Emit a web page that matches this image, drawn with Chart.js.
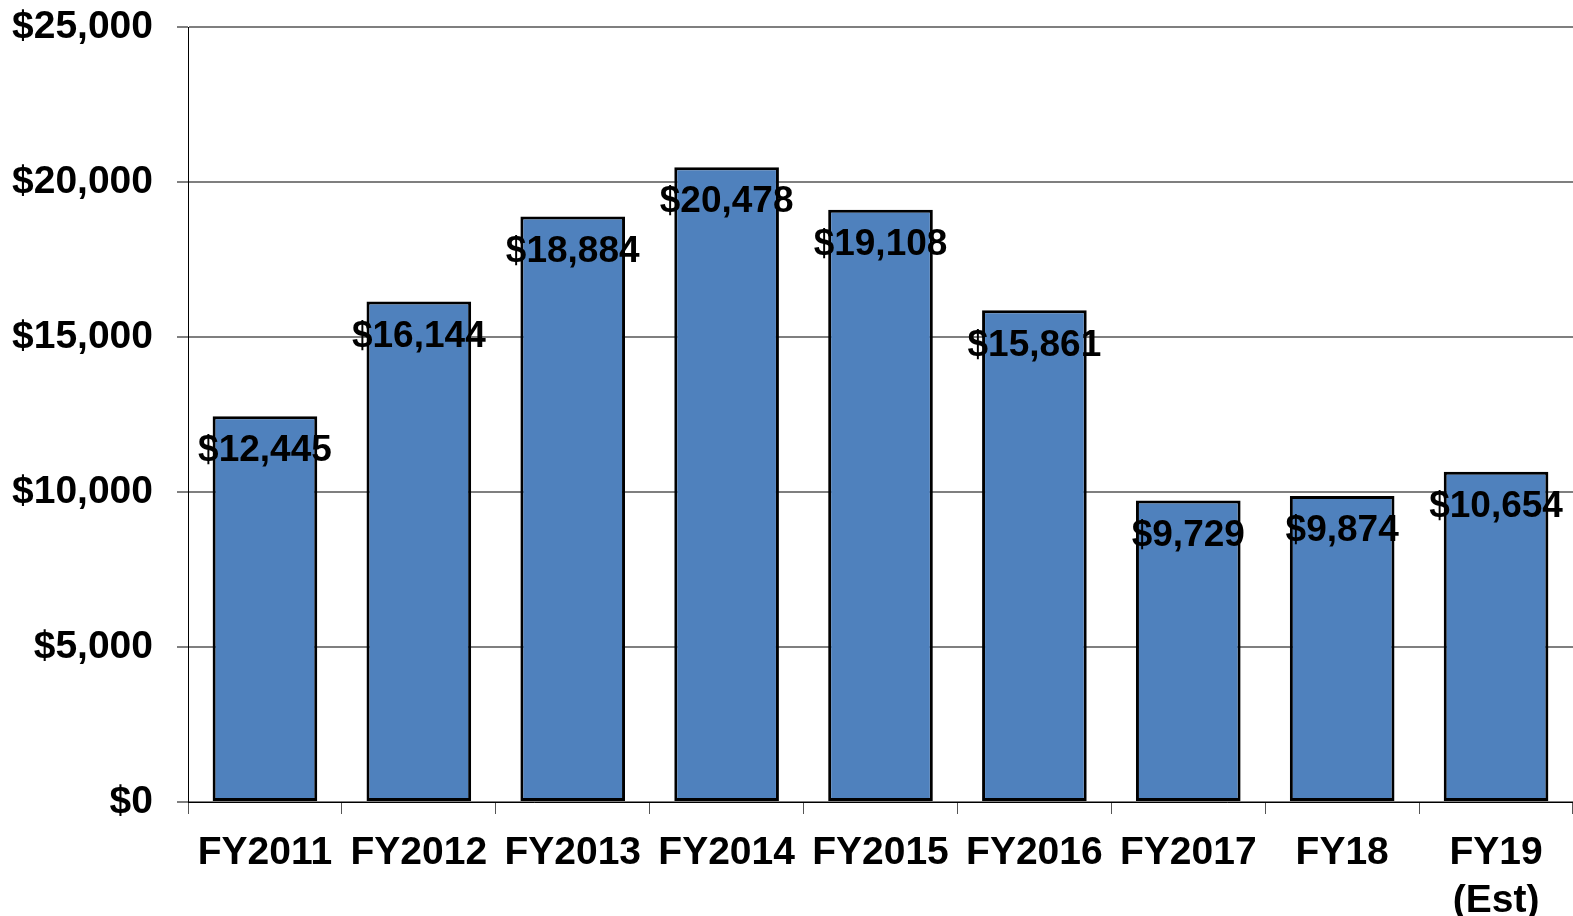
<!DOCTYPE html>
<html>
<head>
<meta charset="utf-8">
<script src="https://cdn.jsdelivr.net/npm/chart.js@4"></script>
<style>
  html, body { margin: 0; padding: 0; background: #fff; }
  #wrap { width: 1573px; height: 916px; }
</style>
</head>
<body>
<div id="wrap"><canvas id="barChart"></canvas></div>
<script>
const years = ['FY2011', 'FY2012', 'FY2013', 'FY2014', 'FY2015', 'FY2016', 'FY2017', 'FY18', ['FY19', '(Est)']];
const amounts = [12445, 16144, 18884, 20478, 19108, 15861, 9729, 9874, 10654];
const yTicks = [0, 5000, 10000, 15000, 20000, 25000];

const fontFamily = '"Liberation Sans", Arial, sans-serif';

function money(v) {
    return '$' + Number(v).toLocaleString('en-US');
}

// value labels sit a little below the top of each bar
const barLabels = {
    id: 'barLabels',
    afterDatasetsDraw(chart) {
        const ctx = chart.ctx;
        const meta = chart.getDatasetMeta(0);
        ctx.save();
        ctx.font = 'bold 37px ' + fontFamily;
        ctx.fillStyle = '#000';
        ctx.textAlign = 'center';
        ctx.textBaseline = 'middle';
        meta.data.forEach((bar, i) => {
            ctx.fillText(money(amounts[i]), bar.x, bar.y + 35);
        });
        ctx.restore();
    }
};

let ctxBar = document.getElementById('barChart').getContext('2d');
let barChart = new Chart(ctxBar, {
    type: 'bar',
    data: {
        labels: years,
        datasets: [{
            data: amounts,
            backgroundColor: '#4F81BD',
            borderColor: '#000',
            borderWidth: 3,
            borderSkipped: false,
            barPercentage: 0.68,
            categoryPercentage: 1
        }]
    },
    options: {
        responsive: true,
        maintainAspectRatio: false,
        animation: false,
        layout: { padding: { top: 27, left: 0, right: 0, bottom: 0 } },
        plugins: {
            legend: { display: false },
            tooltip: { enabled: false }
        },
        scales: {
            x: {
                offset: true,
                grid: {
                    offset: true,
                    drawOnChartArea: false,
                    drawTicks: true,
                    tickLength: 12,
                    tickColor: '#555'
                },
                border: { color: '#000', width: 1 },
                ticks: {
                    color: '#000',
                    padding: 15,
                    maxRotation: 0,
                    autoSkip: false,
                    font: { family: fontFamily, size: 39, weight: 'bold', lineHeight: 1.23 }
                },
                afterFit(scale) { scale.height = 114; }
            },
            y: {
                min: 0,
                max: 25000,
                afterBuildTicks(scale) {
                    scale.ticks = yTicks.map(v => ({ value: v }));
                },
                grid: {
                    color: '#7f7f7f',
                    lineWidth: 2,
                    tickColor: '#000',
                    tickWidth: 1,
                    tickLength: 11
                },
                border: { color: '#000', width: 1 },
                ticks: {
                    color: '#000',
                    padding: 24,
                    font: { family: fontFamily, size: 39, weight: 'bold' },
                    callback: v => money(v)
                },
                afterFit(scale) {
                    scale.width = 188;
                    scale.paddingTop = 0;
                    scale.paddingBottom = 0;
                }
            }
        }
    },
    plugins: [barLabels]
});
</script>
</body>
</html>
